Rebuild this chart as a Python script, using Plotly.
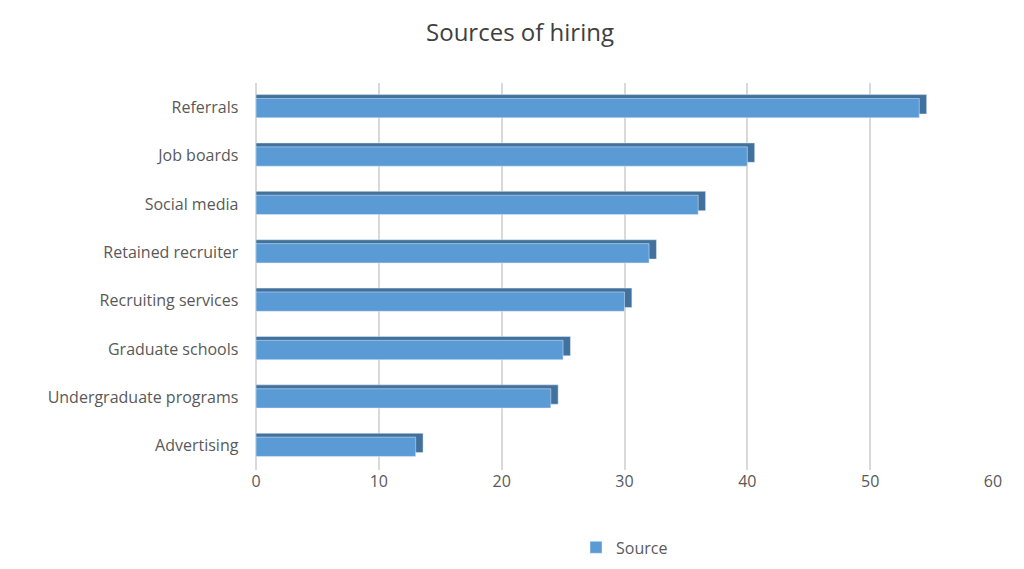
import plotly.graph_objects as go

categories = ["Advertising", "Undergraduate programs", "Graduate schools", "Recruiting services",
              "Retained recruiter", "Social media", "Job boards", "Referrals"]
values = [13, 24, 25, 30, 32, 36, 40, 54]
depth = 0.6

fig = go.Figure()
fig.add_trace(go.Bar(y=categories, x=[v + depth for v in values], orientation="h",
                     marker=dict(color="#41719C"), width=0.4, offset=-0.14,
                     showlegend=False, hoverinfo="skip"))
fig.add_trace(go.Bar(y=categories, x=values, orientation="h", name="Source",
                     marker=dict(color="#5B9BD5"), width=0.4, offset=-0.22))
fig.update_layout(
    width=1024, height=569, barmode="overlay",
    paper_bgcolor="white", plot_bgcolor="white",
    font=dict(family="Open Sans, Liberation Sans, sans-serif", color="#595959", size=16),
    title=dict(text="Sources of hiring", x=0.5, y=0.956, xanchor="center", yanchor="middle",
               font=dict(size=24, color="#404040")),
    margin=dict(l=248, r=39, t=75, b=104),
    xaxis=dict(range=[0, 60], dtick=10, showgrid=True, gridcolor="#D9D9D9", gridwidth=1.5,
               zeroline=True, zerolinecolor="#D9D9D9", tickfont=dict(size=16)),
    yaxis=dict(ticksuffix="    ", tickfont=dict(size=16)),
    legend=dict(orientation="h", x=0.5, xanchor="center", y=-0.2, yanchor="middle",
                font=dict(size=16)),
)
fig.write_html("out.html")
